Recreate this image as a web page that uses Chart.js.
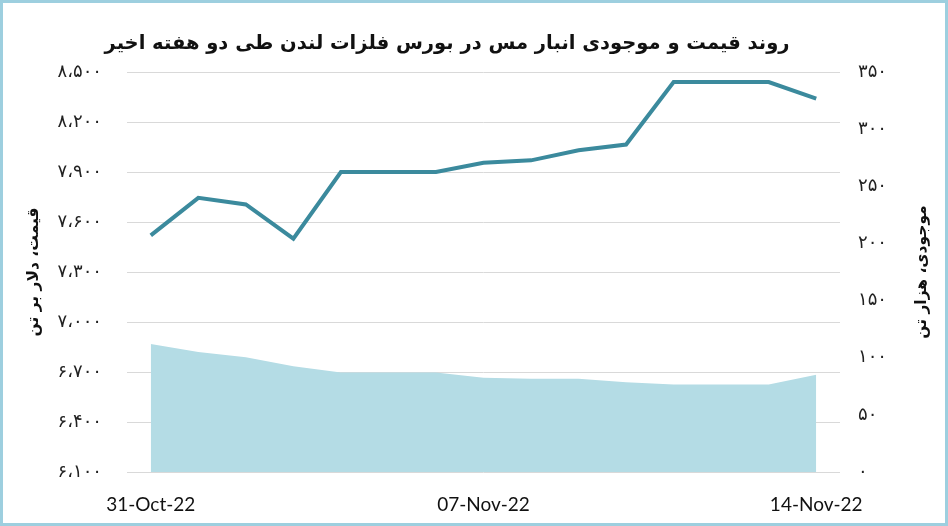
<!DOCTYPE html>
<html>
<head>
<meta charset="utf-8">
<script src="https://cdn.jsdelivr.net/npm/chart.js@4/dist/chart.umd.min.js"></script>
<style>
  html, body { margin: 0; padding: 0; background: #fff; }
  #wrap { width: 948px; height: 526px; position: relative; }
</style>
</head>
<body>
<div id="wrap"><canvas id="copperChart"></canvas></div>
<script>
const dates = ['31-Oct-22', '01-Nov-22', '02-Nov-22', '03-Nov-22', '04-Nov-22', '05-Nov-22', '06-Nov-22',
  '07-Nov-22', '08-Nov-22', '09-Nov-22', '10-Nov-22', '11-Nov-22', '12-Nov-22', '13-Nov-22', '14-Nov-22'];
const shownDates = ['31-Oct-22', '07-Nov-22', '14-Nov-22'];
const price = [7520, 7745, 7705, 7500, 7900, 7900, 7900, 7955, 7970, 8030, 8065, 8440, 8440, 8440, 8340];
const stock = [112, 105, 100.5, 92.5, 87, 87, 87, 82.5, 81.5, 81.5, 78.5, 76.5, 76.5, 76.5, 85];
const priceTicks = { min: 6100, max: 8500, step: 300 };
const stockTicks = { min: 0, max: 350, step: 50 };

const chartTitle = 'روند قیمت و موجودی انبار مس در بورس فلزات لندن طی دو هفته اخیر';
const leftTitle = 'قیمت، دلار بر تن';
const rightTitle = 'موجودی، هزار تن';

const faDigits = '۰۱۲۳۴۵۶۷۸۹';
function toFa(n) {
  return n.toLocaleString('en-US').replace(/,/g, '،').replace(/\d/g, d => faDigits[d]);
}

const persianFont = "'DejaVu Sans', sans-serif";

// titles drawn by hand: the right one reads bottom-to-top like the left one
const textPlugin = {
  id: 'texts',
  afterDraw(chart) {
    const ctx = chart.ctx;
    const area = chart.chartArea;
    const midY = (area.top + area.bottom) / 2;
    ctx.save();
    ctx.fillStyle = '#111';
    ctx.textAlign = 'center';
    ctx.textBaseline = 'middle';
    ctx.direction = 'rtl';
    ctx.font = "bold 19.5px " + persianFont;
    ctx.fillText(chartTitle, 447, 44);

    ctx.font = "bold 15.5px " + persianFont;
    ctx.save();
    ctx.translate(34, midY);
    ctx.rotate(-Math.PI / 2);
    ctx.fillText(leftTitle, 0, 0);
    ctx.restore();

    ctx.save();
    ctx.translate(922, midY);
    ctx.rotate(-Math.PI / 2);
    ctx.fillText(rightTitle, 0, 0);
    ctx.restore();

    // frame round the picture
    ctx.strokeStyle = '#9dcfdf';
    ctx.lineWidth = 3;
    ctx.strokeRect(1.5, 1.5, chart.width - 3, chart.height - 3);
    ctx.restore();
  }
};

document.addEventListener('DOMContentLoaded', () => {
  const ctx = document.getElementById('copperChart').getContext('2d');

  new Chart(ctx, {
    type: 'line',
    data: {
      labels: dates,
      datasets: [{
        label: 'price',
        data: price,
        yAxisID: 'y',
        borderColor: '#3b8a9d',
        borderWidth: 4,
        pointRadius: 0,
        tension: 0,
        fill: false,
        order: 0,
      }, {
        label: 'stock',
        data: stock,
        yAxisID: 'y1',
        borderWidth: 0,
        borderColor: 'rgba(0,0,0,0)',
        backgroundColor: '#b4dce5',
        pointRadius: 0,
        tension: 0,
        fill: 'origin',
        order: 1,
      }],
    },
    options: {
      responsive: true,
      maintainAspectRatio: false,
      animation: false,
      layout: { padding: { top: 72, bottom: 0, left: 0, right: 0 } },
      plugins: {
        legend: { display: false },
        title: { display: false },
        tooltip: { enabled: false },
      },
      scales: {
        x: {
          offset: true,
          grid: { display: false },
          border: { display: false },
          afterFit: (scale) => { scale.height = 54; },
          ticks: {
            autoSkip: false,
            maxRotation: 0,
            padding: 13,
            color: '#111',
            font: { family: 'Lato', size: 19 },
            callback: (value, index) => shownDates.includes(dates[index]) ? dates[index] : '',
          },
        },
        y: {
          position: 'left',
          min: priceTicks.min,
          max: priceTicks.max,
          border: { display: false },
          grid: { color: '#d9d9d9', lineWidth: 1, drawTicks: false },
          afterFit: (scale) => { scale.width = 127; },
          ticks: {
            stepSize: priceTicks.step,
            padding: 25,
            color: '#222',
            font: { family: persianFont, size: 18 },
            callback: (v) => toFa(v),
          },
        },
        y1: {
          position: 'right',
          min: stockTicks.min,
          max: stockTicks.max,
          border: { display: false },
          grid: { display: false, drawTicks: false },
          afterFit: (scale) => { scale.width = 108; },
          ticks: {
            stepSize: stockTicks.step,
            padding: 18,
            color: '#222',
            font: { family: persianFont, size: 18 },
            callback: (v) => toFa(v),
          },
        },
      },
    },
    plugins: [textPlugin],
  });
});
</script>
</body>
</html>
